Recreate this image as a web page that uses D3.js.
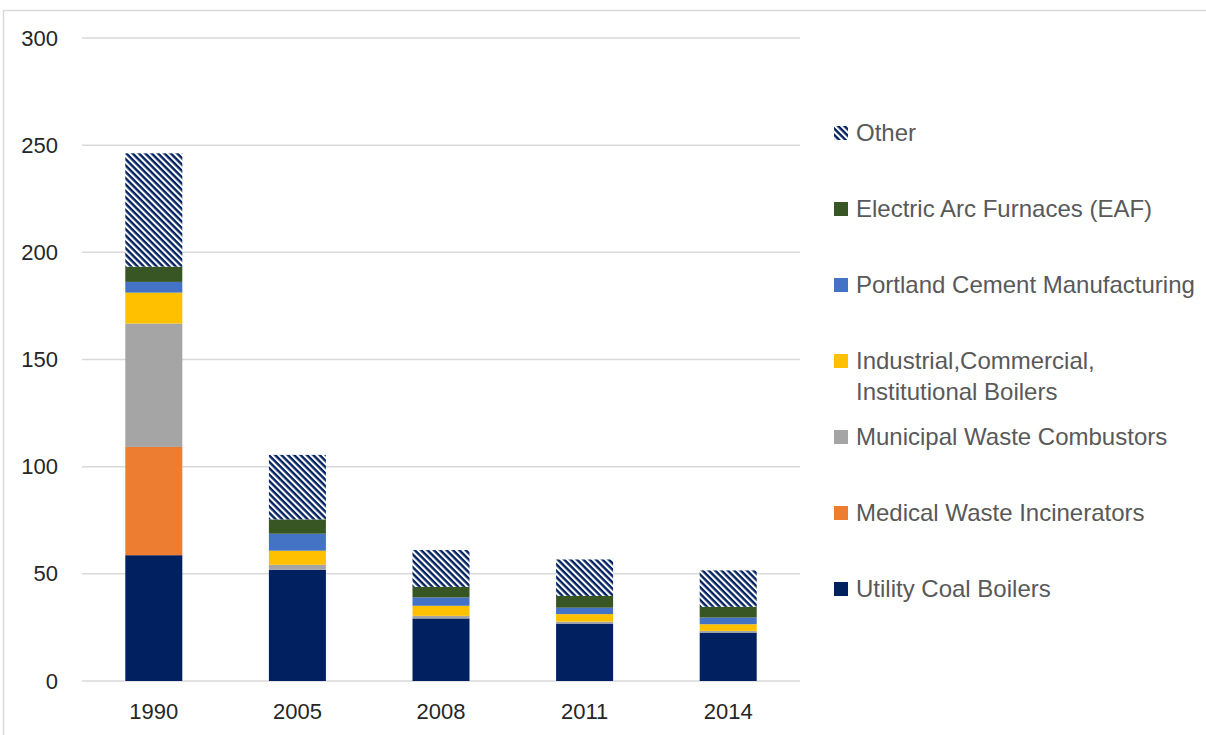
<!DOCTYPE html>
<html>
<head>
<meta charset="utf-8">
<script src="https://cdn.jsdelivr.net/npm/d3@7"></script>
<style>
  body { margin: 0; background: #fff; }
  svg text { font-family: "Liberation Sans", Arial, sans-serif; }
</style>
</head>
<body>
<div id="chart"></div>
<script>
// values
const years = ["1990", "2005", "2008", "2011", "2014"];
const utilityCoal = [58.7, 51.9, 29.2, 26.8, 22.6];
const medicalWaste = [50.5, 0, 0, 0, 0];
const municipalWaste = [57.6, 2.3, 1.2, 0.9, 0.8];
const iciBoilers = [14.4, 6.6, 4.7, 3.5, 3.1];
const portlandCement = [5.0, 7.9, 3.9, 3.0, 3.1];
const eaf = [7.1, 6.7, 4.9, 5.5, 5.0];
const other = [52.9, 30.1, 17.2, 17.0, 17.0];
const yTicks = [0, 50, 100, 150, 200, 250, 300];

// stacking order, bottom to top
const series = [
    { key: "Utility Coal Boilers", values: utilityCoal, color: "#002060" },
    { key: "Medical Waste Incinerators", values: medicalWaste, color: "#ED7D31" },
    { key: "Municipal Waste Combustors", values: municipalWaste, color: "#A5A5A5" },
    { key: "Industrial,Commercial, Institutional Boilers", values: iciBoilers, color: "#FFC000",
      lines: ["Industrial,Commercial,", "Institutional Boilers"] },
    { key: "Portland Cement Manufacturing", values: portlandCement, color: "#4472C4" },
    { key: "Electric Arc Furnaces (EAF)", values: eaf, color: "#375623" },
    { key: "Other", values: other, color: "url(#hatch)" }
];

const width = 1206;
const height = 735;
const margin = { top: 38, right: 406, bottom: 54, left: 82 };

const svg = d3.select("#chart")
    .append("svg")
    .attr("width", width)
    .attr("height", height);

// diagonal hatch for "Other" (stripes running down to the right)
const defs = svg.append("defs");
const pat = defs.append("pattern")
    .attr("id", "hatch")
    .attr("patternUnits", "userSpaceOnUse")
    .attr("width", 4.5)
    .attr("height", 4.5)
    .attr("patternTransform", "rotate(45)");
pat.append("rect").attr("width", 4.5).attr("height", 4.5).attr("fill", "#fff");
pat.append("rect").attr("width", 4.5).attr("height", 2.4).attr("fill", "#002060");

// outer chart frame
svg.append("rect")
    .attr("x", 3.5)
    .attr("y", 10.5)
    .attr("width", width + 20)
    .attr("height", height + 20)
    .attr("fill", "none")
    .attr("stroke", "#d9d9d9")
    .attr("stroke-width", 1.5);

const table = years.map((y, i) => {
    const row = { year: y };
    series.forEach(s => { row[s.key] = s.values[i]; });
    return row;
});

const stacked = d3.stack().keys(series.map(s => s.key))(table);

const xScale = d3.scaleBand()
    .domain(years)
    .range([margin.left, width - margin.right])
    .paddingInner(0.603)
    .paddingOuter(0.3015);

const yScale = d3.scaleLinear()
    .domain([0, 300])
    .range([height - margin.bottom, margin.top]);

// gridlines
svg.append("g")
    .selectAll("line")
    .data(yTicks)
    .enter().append("line")
    .attr("x1", margin.left)
    .attr("x2", width - margin.right)
    .attr("y1", d => yScale(d))
    .attr("y2", d => yScale(d))
    .attr("stroke", "#d9d9d9")
    .attr("stroke-width", 1.5);

// y axis labels
const yAxis = svg.append("g")
    .attr("transform", `translate(${margin.left - 24}, 0)`)
    .call(d3.axisLeft(yScale).tickValues(yTicks).tickSize(0).tickPadding(0));
yAxis.select(".domain").remove();
yAxis.selectAll("text")
    .attr("font-size", 22)
    .attr("fill", "#262626")
    .style("font-family", "'Liberation Sans', Arial, sans-serif");

// x axis labels
const xAxis = svg.append("g")
    .attr("transform", `translate(0, ${height - margin.bottom})`)
    .call(d3.axisBottom(xScale).tickSize(0).tickPadding(22));
xAxis.select(".domain").remove();
xAxis.selectAll("text")
    .attr("font-size", 22)
    .attr("fill", "#262626")
    .style("font-family", "'Liberation Sans', Arial, sans-serif");

// bars
const layers = svg.selectAll(".layer")
    .data(stacked)
    .enter().append("g")
    .attr("class", "layer")
    .attr("fill", (d, i) => series[i].color);

layers.selectAll("rect")
    .data(d => d)
    .enter().append("rect")
    .attr("x", d => xScale(d.data.year))
    .attr("width", xScale.bandwidth())
    .attr("y", d => yScale(d[1]))
    .attr("height", d => yScale(d[0]) - yScale(d[1]));

// legend, top entry is the top of the stack
const legendItems = series.slice().reverse();
const legendY = d3.scalePoint()
    .domain(legendItems.map(s => s.key))
    .range([133, 589]);

const legend = svg.selectAll(".legend")
    .data(legendItems)
    .enter().append("g")
    .attr("class", "legend")
    .attr("transform", d => `translate(834, ${legendY(d.key)})`);

legend.append("rect")
    .attr("x", 0)
    .attr("y", -7)
    .attr("width", 14)
    .attr("height", 14)
    .attr("fill", d => d.color);

legend.each(function(d) {
    const lines = d.lines || [d.key];
    const t = d3.select(this).append("text")
        .attr("x", 22)
        .attr("y", 0)
        .attr("font-size", 24)
        .attr("fill", "#595959");
    lines.forEach((ln, j) => {
        t.append("tspan")
            .attr("x", 22)
            .attr("dy", j === 0 ? "0.35em" : 31)
            .text(ln);
    });
});
</script>
</body>
</html>
